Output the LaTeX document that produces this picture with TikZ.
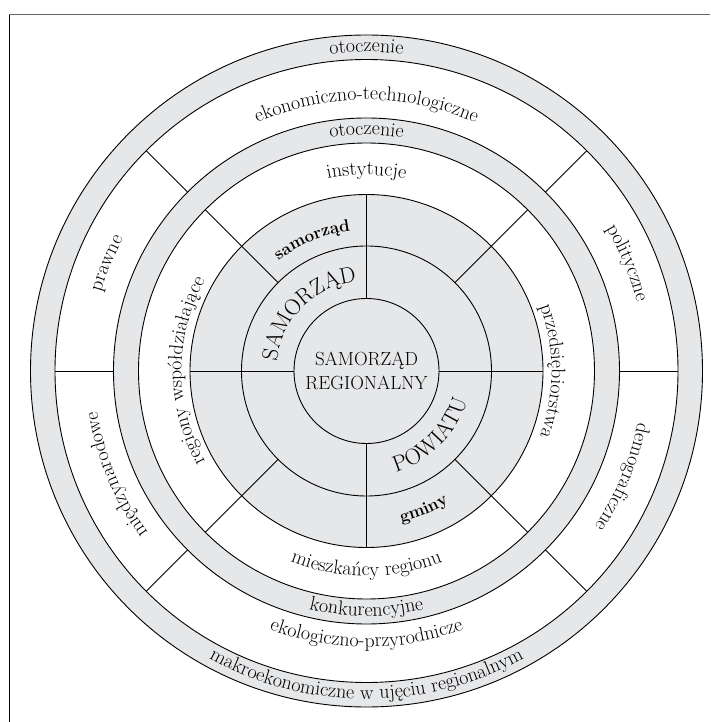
\documentclass[tikz,border=0pt]{standalone}
\usepackage{fontspec}
\usetikzlibrary{decorations.text}

\definecolor{ringgray}{RGB}{230,231,233}

% fonts of the labels
\newcommand{\ringfont}{\fontsize{20}{22}\selectfont}
\newcommand{\boldlabel}{\fontsize{17}{20}\selectfont\bfseries}
\newcommand{\bigcaps}{\fontsize{22.5}{24}\selectfont}

% radii of the rings
\newcommand{\rA}{72.5pt}
\newcommand{\rB}{125pt}
\newcommand{\rC}{176.5pt}
\newcommand{\rD}{228pt}
\newcommand{\rE}{253pt}
\newcommand{\rF}{311.5pt}
\newcommand{\rG}{336pt}

\tikzset{
  arclabel/.style 2 args={decorate,
    decoration={text along path, text align=center, text={|#1|#2}}},
}

\begin{document}
\begin{tikzpicture}[line width=0.9pt]
\useasboundingbox (-366.5pt,-351pt) rectangle (343.5pt,371pt);
% frame (cut off at right and bottom)
\draw[line width=1.2pt] (-357pt,-351pt) -- (-357pt,357pt);
\draw[black!60] (-357pt,357pt) -- (343.5pt,357pt);

% rings, filled from outside in
\fill[ringgray] (0,0) circle[radius=\rG];
\fill[white] (0,0) circle[radius=\rF];
\fill[ringgray] (0,0) circle[radius=\rE];
\fill[white] (0,0) circle[radius=\rD];
\fill[ringgray] (0,0) circle[radius=\rC];
\foreach \r in {\rA,\rB,\rC,\rD,\rE,\rF,\rG}
  \draw (0,0) circle[radius=\r];

% dividing lines
\foreach \a in {0,90,180,270}
  \draw (\a:\rA) -- (\a:\rC);
\foreach \a in {45,135,225,315}
  \draw (\a:\rB) -- (\a:\rD);
\foreach \a in {0,45,135,180,225,315}
  \draw (\a:\rE) -- (\a:\rF);

% core
\node[align=center, font=\fontsize{19}{24}\selectfont] (core) at (0,0) {SAMORZĄD\\REGIONALNY};

% inner ring
\path[arclabel={\bigcaps}{SAMORZĄD}] (180:90pt) arc[start angle=180, end angle=90, radius=90pt];
\path[arclabel={\bigcaps}{POWIATU}] (270:105pt) arc[start angle=270, end angle=360, radius=105pt];

% second ring
\path[arclabel={\boldlabel}{samorząd}] (135:141pt) arc[start angle=135, end angle=90, radius=141pt];
\path[arclabel={\boldlabel}{gminy}] (270:155pt) arc[start angle=270, end angle=315, radius=155pt];

% near surroundings
\path[arclabel={\ringfont}{instytucje}] (135:196pt) arc[start angle=135, end angle=45, radius=196pt];
\path[arclabel={\ringfont}{przedsiębiorstwa}] (45:185pt) arc[start angle=45, end angle=-45, radius=185pt];
\path[arclabel={\ringfont}{mieszkańcy regionu}] (225:205pt) arc[start angle=225, end angle=315, radius=205pt];
\path[arclabel={\ringfont}{regiony współdziałające}] (225:185pt) arc[start angle=225, end angle=135, radius=185pt];
\path[arclabel={\ringfont}{otoczenie}] (150:236pt) arc[start angle=150, end angle=30, radius=236pt];
\path[arclabel={\ringfont}{konkurencyjne}] (210:245pt) arc[start angle=210, end angle=330, radius=245pt];

% far surroundings
\path[arclabel={\ringfont}{ekonomiczno-technologiczne}] (135:271pt) arc[start angle=135, end angle=45, radius=271pt];
\path[arclabel={\ringfont}{polityczne}] (45:279pt) arc[start angle=45, end angle=0, radius=279pt];
\path[arclabel={\ringfont}{demograficzne}] (0:276pt) arc[start angle=0, end angle=-45, radius=276pt];
\path[arclabel={\ringfont}{ekologiczno-przyrodnicze}] (225:276pt) arc[start angle=225, end angle=315, radius=276pt];
\path[arclabel={\ringfont}{międzynarodowe}] (225:272pt) arc[start angle=225, end angle=180, radius=272pt];
\path[arclabel={\ringfont}{prawne}] (180:277pt) arc[start angle=180, end angle=135, radius=277pt];
\path[arclabel={\ringfont}{otoczenie}] (150:319pt) arc[start angle=150, end angle=30, radius=319pt];
\path[arclabel={\ringfont}{makroekonomiczne w ujęciu regionalnym}] (200:328pt) arc[start angle=200, end angle=340, radius=328pt];
\end{tikzpicture}
\end{document}
